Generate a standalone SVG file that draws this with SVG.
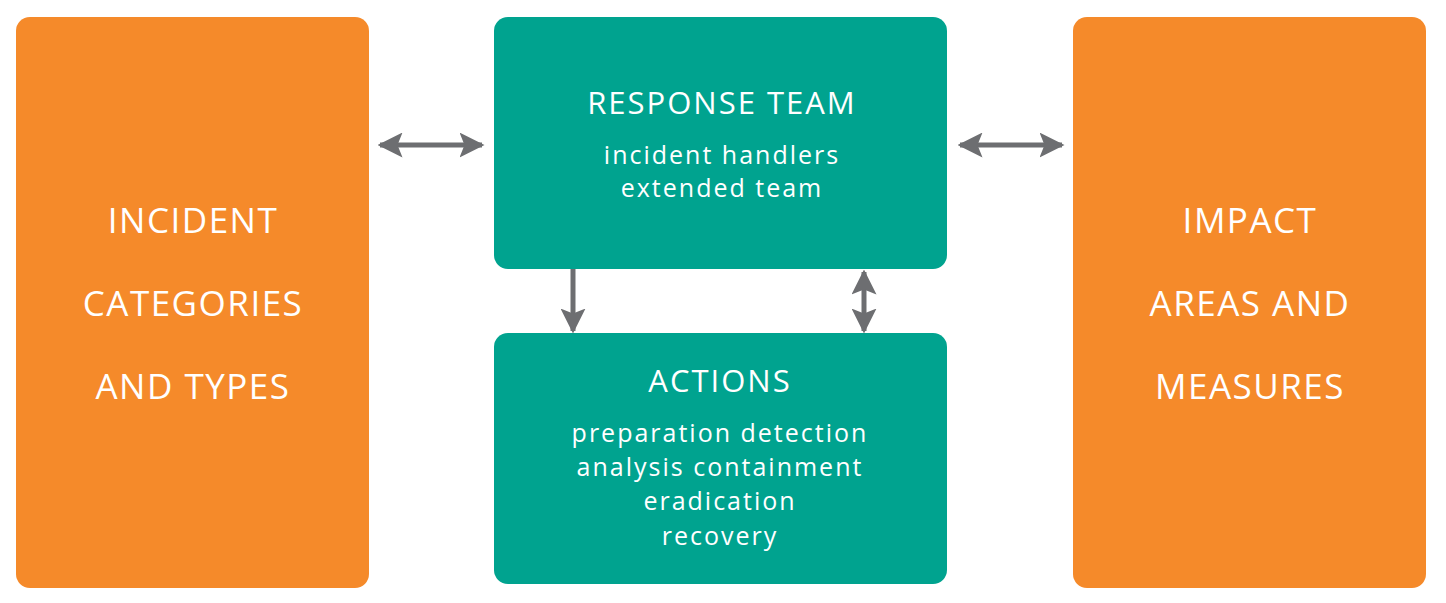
<svg xmlns="http://www.w3.org/2000/svg" width="1446" height="603" viewBox="0 0 1446 603">
<style>
.o{fill:#F58A2A}.t{fill:#00A38F}
text{font-family:"Open Sans","Liberation Sans",sans-serif;fill:#fff;text-anchor:middle}
.big{font-size:35px;letter-spacing:1.5px}
.h{font-size:31px;letter-spacing:2px}
.s{font-size:25px;letter-spacing:2px}
.c{stroke:#6D6E71;stroke-width:5;fill:none}
</style>
<defs>
<marker id="a" viewBox="0 0 10 10" refX="9" refY="5" markerWidth="5" markerHeight="5" orient="auto-start-reverse"><path d="M0,0L10,5L0,10L2,5Z" fill="#6D6E71"/></marker>
</defs>
<rect width="1446" height="603" fill="#fff"/>
<g id="incident"><rect class="o" x="16" y="17" width="353" height="571" rx="14"/>
<text class="big" x="193" y="233">INCIDENT</text><text class="big" x="193" y="316">CATEGORIES</text><text class="big" x="193" y="399">AND TYPES</text></g>
<g id="team"><rect class="t" x="494" y="17" width="453" height="252" rx="14"/>
<text class="h" x="722" y="114">RESPONSE TEAM</text><text class="s" x="722" y="164">incident handlers</text><text class="s" x="722" y="197">extended team</text></g>
<g id="actions"><rect class="t" x="494" y="333" width="453" height="251" rx="14"/>
<text class="h" x="720" y="392">ACTIONS</text><text class="s" x="720" y="442">preparation detection</text><text class="s" x="720" y="476">analysis containment</text><text class="s" x="720" y="510">eradication</text><text class="s" x="720" y="545">recovery</text></g>
<g id="impact"><rect class="o" x="1073" y="17" width="353" height="571" rx="14"/>
<text class="big" x="1250" y="233">IMPACT</text><text class="big" x="1250" y="316">AREAS AND</text><text class="big" x="1250" y="399">MEASURES</text></g>
<g id="connectors">
<line class="c" x1="380" y1="145" x2="482" y2="145" marker-start="url(#a)" marker-end="url(#a)"/>
<line class="c" x1="960" y1="145" x2="1062" y2="145" marker-start="url(#a)" marker-end="url(#a)"/>
<line class="c" x1="573" y1="269" x2="573" y2="331" marker-end="url(#a)"/>
<line class="c" x1="864" y1="272" x2="864" y2="331" marker-start="url(#a)" marker-end="url(#a)"/>
</g>
</svg>
